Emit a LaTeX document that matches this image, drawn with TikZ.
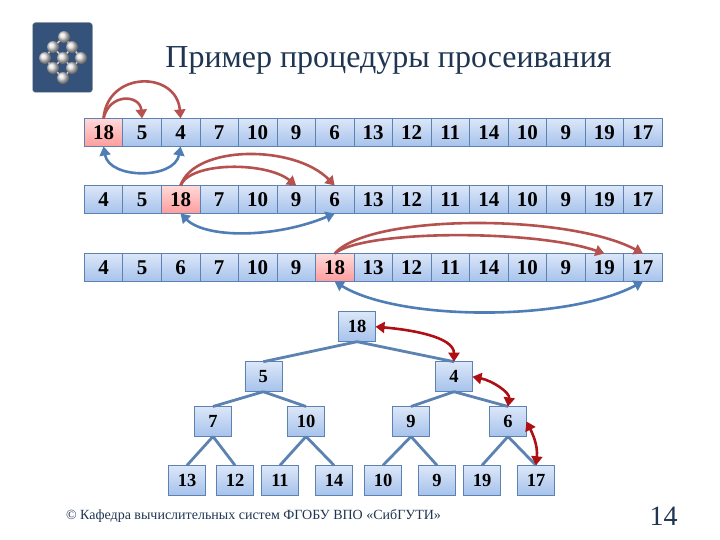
\documentclass[tikz,border=0pt]{standalone}
\usepackage{fontspec}
\setmainfont{Liberation Serif}
\usetikzlibrary{arrows.meta}
\definecolor{titleblue}{HTML}{1F3552}
\definecolor{logoblue}{HTML}{34527A}
\definecolor{edgeblue}{HTML}{5B82B0}
\definecolor{arcred}{HTML}{B5524F}
\definecolor{arcblue}{HTML}{4F7DB5}
\definecolor{swapred}{HTML}{AE0F14}
\definecolor{celltop}{HTML}{DCE7F8}
\definecolor{cellbottom}{HTML}{A6C2EC}
\definecolor{hottop}{HTML}{FFD9D9}
\definecolor{hotbottom}{HTML}{FF9C9C}
\begin{document}
\begin{tikzpicture}[
	x=1pt, y=-1pt,
	cell/.style={ draw=edgeblue, semithick, top color=celltop, bottom color=cellbottom, inner sep=0pt, outer sep=0pt, minimum width=38.5pt, minimum height=28pt, font=\fontsize{21}{23}\selectfont\bfseries },
	hotcell/.style={ cell, top color=hottop, bottom color=hotbottom },
	treecell/.style={ cell, minimum width=37pt, minimum height=30pt, font=\fontsize{18.5}{20}\selectfont\bfseries },
	treeedge/.style={ draw=edgeblue, line width=2.8pt },
	redarc/.style={ draw=arcred, line width=2.6pt, -{Triangle[length=9pt,width=11pt]} },
	bluearc/.style={ draw=arcblue, line width=2.6pt, {Triangle[length=9pt,width=11pt]}-{Triangle[length=9pt,width=11pt]} },
	swaparc/.style={ draw=swapred, line width=2.6pt, {Triangle[length=9pt,width=11pt]}-{Triangle[length=9pt,width=11pt]} },
	atom/.style={ circle, ball color=gray!22!white, inner sep=0pt, minimum size=12pt }
]
\useasboundingbox (0,0) rectangle (720,540);

% logo
\node at (62.5,57.5) (logo) [fill=logoblue, draw=gray!60!white, rounded corners=3pt, minimum width=60pt, minimum height=70pt, inner sep=0pt] {};
\foreach \n/\x/\y in {a/64/37, b/53/47, c/72/47, d/45/58, e/63/58, f/81/58, g/53/68, h/72/68, i/63/78}
	\coordinate (p\n) at (\x,\y);
\foreach \p/\q in {a/b,a/c,b/d,b/e,c/e,c/f,d/g,e/g,e/h,f/h,g/i,h/i}
	\draw[gray!40!white, line width=1.6pt] (p\p) to (p\q);
\foreach \n in {a,b,c,d,e,f,g,h,i}
	\node at (p\n) (atom\n) [atom] {};

\node at (388.5,60) (title) [text=titleblue, font=\fontsize{32}{36}\selectfont] {Пример процедуры просеивания};

% rows
\foreach \v/\st [count=\i] in {18/hotcell,5/cell,4/cell,7/cell,10/cell,9/cell,6/cell,13/cell,12/cell,11/cell,14/cell,10/cell,9/cell,19/cell,17/cell}
	\node at ({103.5+38.53*(\i-1)},132.5) (a\i) [\st] {\v};
\foreach \v/\st [count=\i] in {4/cell,5/cell,18/hotcell,7/cell,10/cell,9/cell,6/cell,13/cell,12/cell,11/cell,14/cell,10/cell,9/cell,19/cell,17/cell}
	\node at ({103.5+38.53*(\i-1)},199.5) (b\i) [\st] {\v};
\foreach \v/\st [count=\i] in {4/cell,5/cell,6/cell,7/cell,10/cell,9/cell,18/hotcell,13/cell,12/cell,11/cell,14/cell,10/cell,9/cell,19/cell,17/cell}
	\node at ({103.5+38.53*(\i-1)},267.5) (c\i) [\st] {\v};

\draw[redarc] (a1.north) .. controls +(6,-26) and +(-2,-24) .. (a2.north);
\draw[redarc] (a1.north) .. controls +(4,-48) and +(-4,-48) .. (a3.north);
\draw[bluearc] (a1.south) .. controls +(6,33) and +(-6,33) .. (a3.south);

\draw[redarc] (b3.north) .. controls +(10,-24) and +(-30,-24) .. (b6.north);
\draw[redarc] (b3.north) .. controls +(14,-41) and +(-40,-41) .. (b7.north);
\draw[bluearc] (b3.south) .. controls +(25,25) and +(-60,25) .. (b7.south);

\draw[redarc] (c7.north) .. controls +(30,-24) and +(-70,-24) .. (c14.north);
\draw[redarc] (c7.north) .. controls +(35,-40) and +(-75,-40) .. (c15.north);
\draw[bluearc] (c7.south) .. controls +(65,40) and +(-75,40) .. (c15.south);

% tree
\node at (357,326.7) (t1) [treecell] {18};
\node at (263.3,376.7) (t2) [treecell] {5};
\node at (454,376.7) (t3) [treecell] {4};
\node at (213,421.5) (t4) [treecell] {7};
\node at (306,421.5) (t5) [treecell] {10};
\node at (411,421.5) (t6) [treecell] {9};
\node at (508,421.5) (t7) [treecell] {6};
\node at (187,480.3) (t8) [treecell] {13};
\node at (235,480.3) (t9) [treecell] {12};
\node at (280,480.3) (t10) [treecell] {11};
\node at (334,480.3) (t11) [treecell] {14};
\node at (383,480.3) (t12) [treecell] {10};
\node at (437,480.3) (t13) [treecell] {9};
\node at (482,480.3) (t14) [treecell] {19};
\node at (536,480.3) (t15) [treecell] {17};
\foreach \p/\q in {t1/t2,t1/t3,t2/t4,t2/t5,t3/t6,t3/t7,t4/t8,t4/t9,t5/t10,t5/t11,t6/t12,t6/t13,t7/t14,t7/t15}
	\draw[treeedge] (\p.south) to (\q.north);

\draw[swaparc] (t1.east) .. controls +(35,3) and +(0,-25) .. (t3.north);
\draw[swaparc] (t3.east) .. controls +(20,4) and +(2,-14) .. (t7.north);
\draw[swaparc] (t7.east) .. controls +(6,12) and +(2,-20) .. (t15.north);

\node at (253.5,516) (footer) [text=titleblue, font=\fontsize{14}{16}\selectfont] {© Кафедра вычислительных систем ФГОБУ ВПО «СибГУТИ»};
\node at (663.5,516) (pagenum) [text=titleblue, font=\fontsize{28}{30}\selectfont] {14};

\end{tikzpicture}
\end{document}
